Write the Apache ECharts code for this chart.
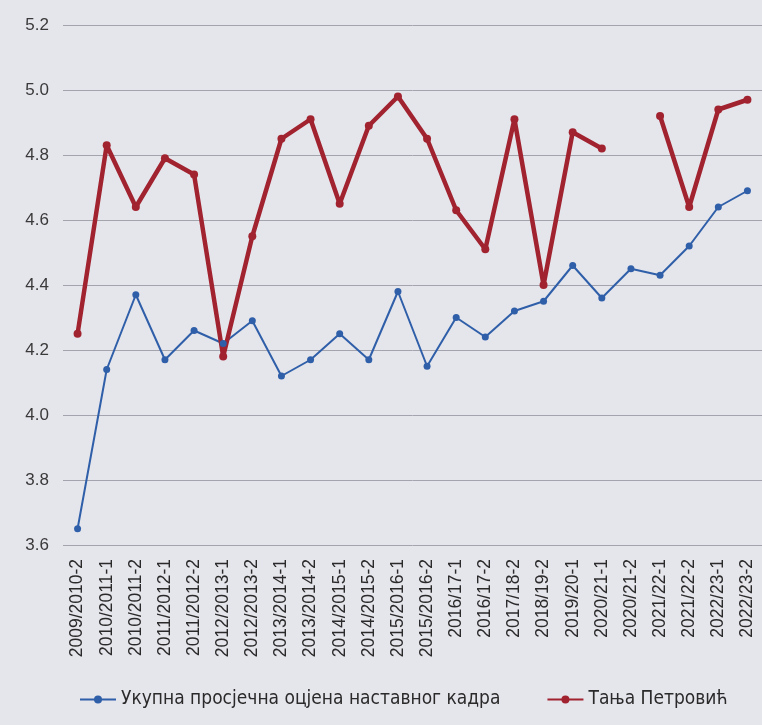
<!DOCTYPE html>
<html>
<head>
  <meta charset="UTF-8">
  <script src="https://cdn.jsdelivr.net/npm/echarts@6/dist/echarts.min.js"></script>
  <title></title>
  <style>
    body { margin: 0; background: #e5e5ec; }
    #chart { width: 762px; height: 725px; }
  </style>
</head>
<body>
  <div id="chart"></div>
  <script>
    const categories = ['2009/2010-2', '2010/2011-1', '2010/2011-2', '2011/2012-1', '2011/2012-2',
      '2012/2013-1', '2012/2013-2', '2013/2014-1', '2013/2014-2', '2014/2015-1', '2014/2015-2',
      '2015/2016-1', '2015/2016-2', '2016/17-1', '2016/17-2', '2017/18-2', '2018/19-2',
      '2019/20-1', '2020/21-1', '2020/21-2', '2021/22-1', '2021/22-2', '2022/23-1', '2022/23-2'];
    const overall = [3.65, 4.14, 4.37, 4.17, 4.26, 4.22, 4.29, 4.12, 4.17, 4.25, 4.17,
      4.38, 4.15, 4.30, 4.24, 4.32, 4.35, 4.46, 4.36, 4.45, 4.43, 4.52, 4.64, 4.69];
    const tanja = [4.25, 4.83, 4.64, 4.79, 4.74, 4.18, 4.55, 4.85, 4.91, 4.65, 4.89,
      4.98, 4.85, 4.63, 4.51, 4.91, 4.40, 4.87, 4.82, null, 4.92, 4.64, 4.94, 4.97];
    const seriesNames = ['Укупна просјечна оцјена наставног кадра', 'Тања Петровић'];

    const chart = echarts.init(document.getElementById('chart'));
    chart.setOption({
      backgroundColor: '#e5e5ec',
      animation: false,
      grid: { left: 63, top: 25, width: 700, height: 520 },
      legend: {
        bottom: 11,
        left: 74,
        itemGap: 46,
        itemWidth: 36,
        itemHeight: 10,
        textStyle: { fontFamily: 'DejaVu Sans Condensed', fontSize: 19, color: '#2a2a2a' }
      },
      xAxis: {
        type: 'category',
        data: categories,
        boundaryGap: true,
        axisLine: { show: false },
        axisTick: { show: false },
        axisLabel: {
          rotate: 90, interval: 0, margin: 14,
          fontFamily: 'Liberation Sans', fontSize: 17.5, color: '#2a2a2a'
        }
      },
      yAxis: {
        type: 'value',
        min: 3.6, max: 5.2, interval: 0.2,
        axisLabel: {
          margin: 14, fontFamily: 'Liberation Sans', fontSize: 17, color: '#3a3a3a',
          formatter: v => v.toFixed(1)
        },
        splitLine: { lineStyle: { color: '#a4a4ae', width: 1 } }
      },
      series: [
        {
          name: seriesNames[0], type: 'line', data: overall,
          symbol: 'circle', symbolSize: 7,
          itemStyle: { color: '#2f5fa8' },
          lineStyle: { color: '#2f5fa8', width: 2 }
        },
        {
          name: seriesNames[1], type: 'line', data: tanja,
          symbol: 'circle', symbolSize: 8, connectNulls: false,
          itemStyle: { color: '#a1232f' },
          lineStyle: { color: '#a1232f', width: 4.5 }
        }
      ]
    });
  </script>
</body>
</html>
